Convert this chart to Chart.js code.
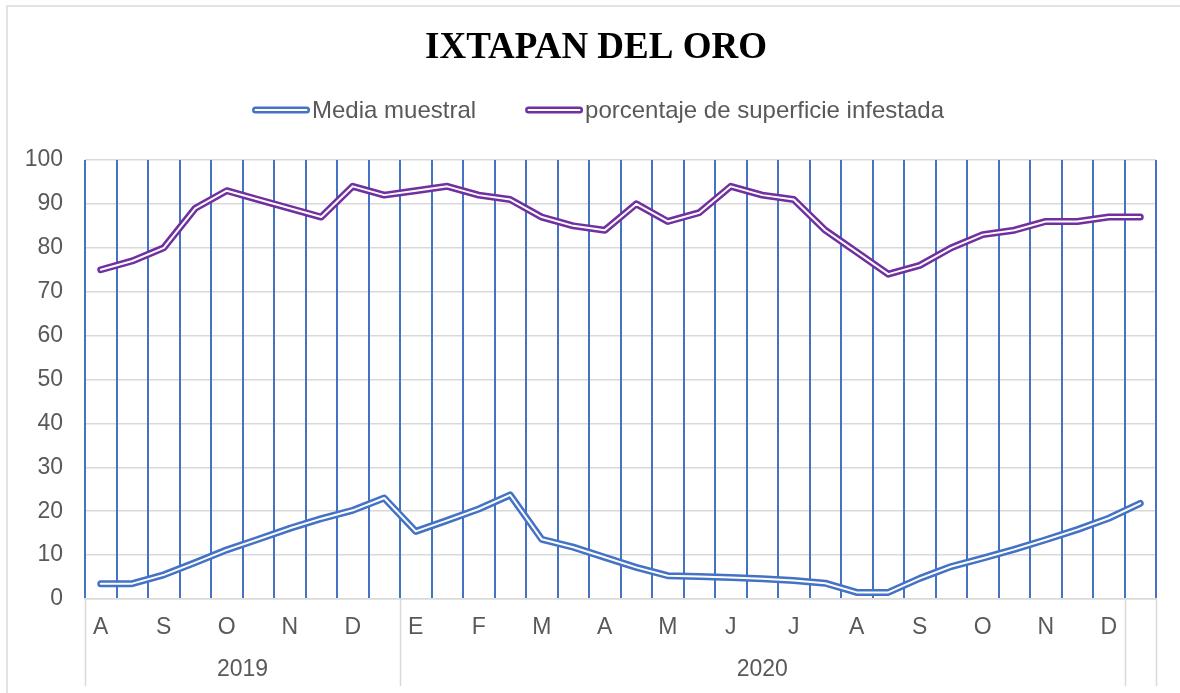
<!DOCTYPE html>
<html>
<head>
<meta charset="utf-8">
<title>IXTAPAN DEL ORO</title>
<script src="https://cdn.jsdelivr.net/npm/chart.js@4.4.0/dist/chart.umd.min.js"></script>
<style>
  html, body { margin: 0; padding: 0; background: #ffffff; }
  #wrap { width: 1180px; height: 693px; }
  canvas { display: block; }
</style>
</head>
<body>
<div id="wrap"><canvas id="chart" width="1180" height="693"></canvas></div>
<script>
// Title and series names
const chartTitle = 'IXTAPAN DEL ORO';
const seriesNames = ['Media muestral', 'porcentaje de superficie infestada'];
const seriesColors = ['#4472C4', '#7030A0'];

// Two samplings per month (first and second half), Aug 2019 – Dec 2020
const monthLabels = [
  'A', '', 'S', '', 'O', '', 'N', '', 'D', '',
  'E', '', 'F', '', 'M', '', 'A', '', 'M', '', 'J', '', 'J', '',
  'A', '', 'S', '', 'O', '', 'N', '', 'D', ''
];
const yearLabels = [
  '2019', '2019', '2019', '2019', '2019', '2019', '2019', '2019', '2019', '2019',
  '2020', '2020', '2020', '2020', '2020', '2020', '2020', '2020', '2020', '2020', '2020', '2020', '2020', '2020',
  '2020', '2020', '2020', '2020', '2020', '2020', '2020', '2020', '2020', ''
];

// Series values
const mediaMuestral = [
  3.5, 3.5, 5.5, 8.3, 11.2, 13.6, 16.1, 18.3, 20.2, 23.0,
  15.4, 17.9, 20.5, 23.7, 13.6, 11.8, 9.5, 7.2, 5.3, 5.1, 4.9, 4.6, 4.2, 3.6,
  1.5, 1.5, 4.7, 7.4, 9.3, 11.3, 13.5, 15.8, 18.4, 21.8
];
const superficieInfestada = [
  75, 77, 80, 89, 93, 91, 89, 87, 94, 92,
  93, 94, 92, 91, 87, 85, 84, 90, 86, 88, 94, 92, 91, 84,
  79, 74, 76, 80, 83, 84, 86, 86, 87, 87
];

// Value axis
const yMin = 0;
const yMax = 100;
const yStep = 10;

const TEXT_GREY = '#595959';
const LINE_GREY = '#d9d9d9';
const SANS = "'Liberation Sans', Arial, sans-serif";
const OUTER_W = 7;
const INNER_W = 2;

// Double ("compound") line: a wide coloured stroke with a thin white core on top
function outerLine(label, data, color, order) {
  return {
    label, data, order,
    borderColor: color, backgroundColor: color,
    borderWidth: OUTER_W, pointRadius: 0, pointHoverRadius: 0,
    tension: 0, fill: false,
    borderCapStyle: 'round', borderJoinStyle: 'round'
  };
}
function innerLine(label, data, order) {
  return {
    label, data, order, core: true,
    borderColor: '#ffffff', backgroundColor: '#ffffff',
    borderWidth: INNER_W, pointRadius: 0, pointHoverRadius: 0,
    tension: 0, fill: false,
    borderCapStyle: 'round', borderJoinStyle: 'round'
  };
}

// White page with the thin frame round the chart; title centred over the frame
const framePlugin = {
  id: 'frame',
  afterLayout(chart) {
    const t = chart.titleBlock;
    if (t) { t.left += 8; t.right += 8; }
  },
  beforeDraw(chart) {
    const ctx = chart.ctx;
    ctx.save();
    ctx.fillStyle = '#ffffff';
    ctx.fillRect(0, 0, chart.width, chart.height);
    ctx.strokeStyle = LINE_GREY;
    ctx.lineWidth = 1.5;
    ctx.beginPath();
    ctx.moveTo(7, chart.height);
    ctx.lineTo(7, 6);
    ctx.lineTo(chart.width, 6);
    ctx.stroke();
    ctx.restore();
  }
};

// Second level of the category axis: year groups with separators
const yearAxisPlugin = {
  id: 'yearAxis',
  afterDraw(chart) {
    const x = chart.scales.x;
    const ctx = chart.ctx;
    const half = (x.getPixelForValue(1) - x.getPixelForValue(0)) / 2;
    const groups = [];
    yearLabels.forEach((y, i) => {
      const g = groups[groups.length - 1];
      if (g && g.label === y) g.to = i; else groups.push({ label: y, from: i, to: i });
    });
    const top = x.top;
    const bottom = 686;
    ctx.save();
    ctx.strokeStyle = LINE_GREY;
    ctx.lineWidth = 1.5;
    const edges = new Set();
    groups.forEach(g => {
      edges.add(Math.round(x.getPixelForValue(g.from) - half));
      edges.add(Math.round(x.getPixelForValue(g.to) + half));
    });
    edges.forEach(px => {
      ctx.beginPath();
      ctx.moveTo(px + 0.5, top);
      ctx.lineTo(px + 0.5, bottom);
      ctx.stroke();
    });
    ctx.fillStyle = TEXT_GREY;
    ctx.font = '23px ' + SANS;
    ctx.textAlign = 'center';
    ctx.textBaseline = 'middle';
    groups.forEach(g => {
      if (!g.label) return;
      const cx = (x.getPixelForValue(g.from) - half + x.getPixelForValue(g.to) + half) / 2;
      ctx.fillText(g.label, cx, 670);
    });
    ctx.restore();
  }
};

// Legend with double-line symbols
const doubleLegendPlugin = {
  id: 'doubleLegend',
  afterDraw(chart) {
    const ctx = chart.ctx;
    const items = chart.data.datasets.filter(d => !d.core);
    const symbolW = 58, symbolGap = 2, itemGap = 49;
    ctx.save();
    ctx.font = '24px ' + SANS;
    const widths = items.map(d => ctx.measureText(d.label).width);
    let total = 0;
    widths.forEach((w, i) => { total += symbolW + symbolGap + w + (i ? itemGap : 0); });
    let xPos = chart.width / 2 + 8 - total / 2;
    const yPos = 110;
    items.forEach((d, i) => {
      ctx.lineCap = 'round';
      ctx.strokeStyle = d.borderColor;
      ctx.lineWidth = OUTER_W;
      ctx.beginPath();
      ctx.moveTo(xPos + 3.5, yPos);
      ctx.lineTo(xPos + symbolW - 3.5, yPos);
      ctx.stroke();
      ctx.strokeStyle = '#ffffff';
      ctx.lineWidth = INNER_W;
      ctx.beginPath();
      ctx.moveTo(xPos + 3.5, yPos);
      ctx.lineTo(xPos + symbolW - 3.5, yPos);
      ctx.stroke();
      ctx.fillStyle = TEXT_GREY;
      ctx.textAlign = 'left';
      ctx.textBaseline = 'middle';
      ctx.fillText(d.label, xPos + symbolW + symbolGap, yPos + 1);
      xPos += symbolW + symbolGap + widths[i] + itemGap;
    });
    ctx.restore();
  }
};

new Chart(document.getElementById('chart'), {
  type: 'line',
  data: {
    labels: monthLabels,
    datasets: [
      outerLine(seriesNames[0], mediaMuestral, seriesColors[0], 3),
      innerLine(seriesNames[0], mediaMuestral, 2),
      outerLine(seriesNames[1], superficieInfestada, seriesColors[1], 1),
      innerLine(seriesNames[1], superficieInfestada, 0)
    ]
  },
  options: {
    responsive: false,
    animation: false,
    devicePixelRatio: 1,
    layout: { padding: { left: 20, right: 24, top: 0, bottom: 0 } },
    plugins: {
      legend: { display: false },
      tooltip: { enabled: false },
      title: {
        display: true,
        text: chartTitle,
        color: '#000000',
        font: { family: "'Liberation Serif', 'Times New Roman', serif", size: 37, weight: 'bold' },
        padding: { top: 25.8, bottom: 89.8 }
      }
    },
    scales: {
      x: {
        type: 'category',
        offset: true,
        afterFit(scale) { scale.height = 94; },
        grid: { offset: true, color: '#4472C4', lineWidth: 2, drawTicks: false, z: -1 },
        border: { display: true, color: LINE_GREY, width: 1.5 },
        ticks: {
          autoSkip: false, maxRotation: 0, minRotation: 0, padding: 15,
          color: TEXT_GREY, font: { family: SANS, size: 23 },
          callback: (v, i) => monthLabels[i]
        }
      },
      y: {
        min: yMin, max: yMax,
        afterFit(scale) { scale.width = 65; },
        grid: { color: LINE_GREY, lineWidth: 1.5, drawTicks: false, z: -2 },
        border: { display: false },
        ticks: {
          stepSize: yStep, padding: 22,
          color: TEXT_GREY, font: { family: SANS, size: 23 }
        }
      }
    }
  },
  plugins: [framePlugin, yearAxisPlugin, doubleLegendPlugin]
});
</script>
</body>
</html>
